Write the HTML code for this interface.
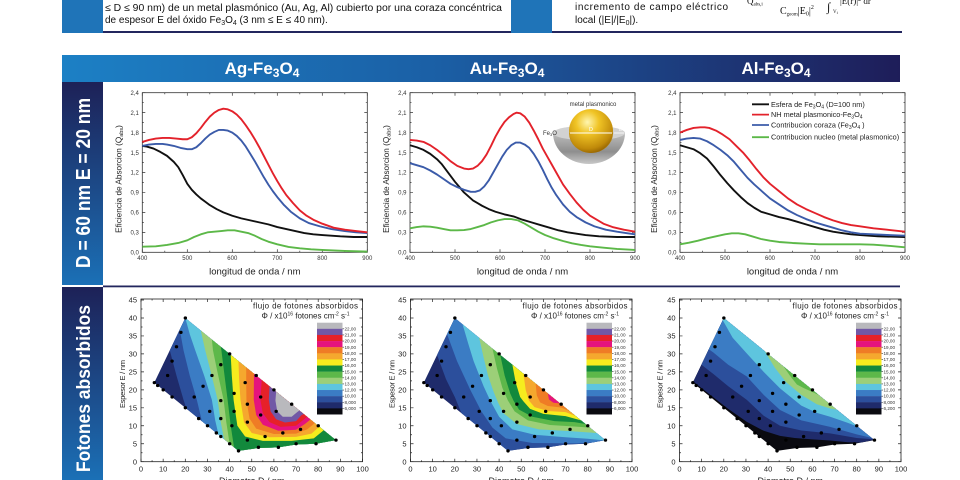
<!DOCTYPE html>
<html><head><meta charset="utf-8"><style>
html,body{margin:0;padding:0;background:#fff;}
svg{display:block;font-family:"Liberation Sans",Arial,sans-serif;}
</style></head><body>
<svg width="960" height="480" viewBox="0 0 960 480" xmlns="http://www.w3.org/2000/svg">
<defs>
 <linearGradient id="gBar" x1="0" y1="0" x2="1" y2="0">
  <stop offset="0" stop-color="#1c80c5"/><stop offset="0.45" stop-color="#1b5fa5"/><stop offset="1" stop-color="#1e1d59"/>
 </linearGradient>
 <linearGradient id="gSide" x1="0" y1="0" x2="0" y2="1">
  <stop offset="0" stop-color="#1d2157"/><stop offset="1" stop-color="#1b70b6"/>
 </linearGradient>
 <radialGradient id="gGold" cx="0.42" cy="0.3" r="0.75">
  <stop offset="0" stop-color="#fff6b0"/><stop offset="0.35" stop-color="#f0c425"/><stop offset="0.8" stop-color="#c08a0a"/><stop offset="1" stop-color="#8a5a00"/>
 </radialGradient>
 <linearGradient id="gShell" x1="0" y1="0" x2="0" y2="1">
  <stop offset="0" stop-color="#bdbdbd"/><stop offset="0.6" stop-color="#8e8e8e"/><stop offset="1" stop-color="#c8c8c8"/>
 </linearGradient>
 <clipPath id="cp"><path d="M6,22 L20,40 L88,6 L79,5 L70,4.8 L62,4 L53,3.8 L44,3 Z"/></clipPath>
 <path id="dots" fill="none" stroke="#000" stroke-width="3.3" stroke-linecap="round" vector-effect="non-scaling-stroke" d="M20,40h.05M18,36h.05M16,32h.05M14,28h.05M12,24h.05M6,22h.05M7.5,21.2h.05M10,20h.05M14,18h.05M20,15h.05M26,12h.05M30,10h.05M34,8h.05M36,7h.05M40,5h.05M44,3h.05M24,18h.05M28,21h.05M31,14h.05M32,24h.05M36,27h.05M36,17h.05M36,12h.05M40,30h.05M42,19h.05M42,14h.05M41,10h.05M47,22h.05M48,16h.05M48,11h.05M48,6h.05M52,24h.05M54,18h.05M54,13h.05M56,7h.05M53,4h.05M60,20h.05M61,14h.05M64,8h.05M62,4h.05M68,16h.05M72,9h.05M70,5h.05M80,10h.05M79,5h.05M88,6h.05"/>
</defs>
<rect width="960" height="480" fill="#fff"/>

<!-- header -->
<rect x="62" y="0" width="41" height="33" fill="#1f74b8"/>
<rect x="511" y="0" width="41" height="33" fill="#1f74b8"/>
<rect x="103" y="31" width="408" height="2" fill="#23265e"/>
<rect x="552" y="31" width="350" height="2" fill="#23265e"/>
<g font-size="10" fill="#111">
 <text x="105" y="11" textLength="397" lengthAdjust="spacingAndGlyphs">≤ D ≤ 90 nm) de un metal plasmónico (Au, Ag, Al) cubierto por una coraza concéntrica</text>
 <text x="105" y="23">de espesor E del óxido Fe<tspan font-size="7" dy="2">3</tspan><tspan dy="-2">O</tspan><tspan font-size="7" dy="2">4</tspan><tspan dy="-2"> (3 nm ≤ E ≤ 40 nm).</tspan></text>
 <text x="575" y="10" textLength="153" lengthAdjust="spacing">incremento de campo eléctrico</text>
 <text x="575" y="23">local (|E|/|E<tspan font-size="7" dy="2">0</tspan><tspan dy="-2">|).</tspan></text>
</g>
<g font-family="Liberation Serif, serif" fill="#111">
 <text x="747" y="4" font-size="9">Q<tspan font-size="5" dy="1.5">abs,i</tspan></text>
 <text x="780" y="14" font-size="10">C<tspan font-size="5" dy="1.5">geom</tspan><tspan dy="-1.5">|E</tspan><tspan font-size="6" dy="1.5">0</tspan><tspan dy="-1.5">|</tspan><tspan font-size="6" dy="-5">2</tspan></text>
 <text x="827" y="11" font-size="12">∫</text>
 <text x="833" y="13" font-size="5">V<tspan font-size="4" dy="1">i</tspan></text>
 <text x="840" y="4" font-size="9">|E(r)|<tspan font-size="6" dy="-3">2</tspan><tspan dy="3"> dr</tspan></text>
</g>

<!-- title bar -->
<rect x="62" y="55" width="838" height="27" fill="url(#gBar)"/>
<g font-size="17" font-weight="bold" fill="#fff" text-anchor="middle">
 <text x="262" y="74">Ag-Fe<tspan font-size="12" dy="3">3</tspan><tspan dy="-3">O</tspan><tspan font-size="12" dy="3">4</tspan></text>
 <text x="507" y="74">Au-Fe<tspan font-size="12" dy="3">3</tspan><tspan dy="-3">O</tspan><tspan font-size="12" dy="3">4</tspan></text>
 <text x="776" y="74">Al-Fe<tspan font-size="12" dy="3">3</tspan><tspan dy="-3">O</tspan><tspan font-size="12" dy="3">4</tspan></text>
</g>

<!-- side panels -->
<rect x="62" y="82" width="41" height="203" fill="url(#gSide)"/>
<rect x="62" y="287" width="41" height="193" fill="url(#gSide)"/>
<rect x="103" y="285.5" width="797" height="1.8" fill="#23265e"/>
<text transform="translate(90,183) rotate(-90)" font-size="20" font-weight="bold" fill="#fff" text-anchor="middle" textLength="170" lengthAdjust="spacingAndGlyphs">D = 60 nm E = 20 nm</text>
<text transform="translate(90,388.5) rotate(-90)" font-size="19" font-weight="bold" fill="#fff" text-anchor="middle" textLength="167" lengthAdjust="spacingAndGlyphs">Fotones absorbidos</text>

<!-- ============ LINE CHART FRAMES ============ -->
<g transform="translate(142.3,0)">
 <g stroke="#333" fill="none">
  <rect x="0" y="92.7" width="225" height="159.6" stroke-width="0.8"/>
  <line x1="1.5" y1="252.65" x2="1.5" y2="92" stroke-width="3" stroke-dasharray="0.7 19.25"/>
  <line x1="0.75" y1="242.675" x2="0.75" y2="92" stroke-width="1.5" stroke-dasharray="0.7 19.25"/>
  <line x1="223.5" y1="252.65" x2="223.5" y2="92" stroke-width="3" stroke-dasharray="0.7 19.25"/>
  <line x1="224.25" y1="242.675" x2="224.25" y2="92" stroke-width="1.5" stroke-dasharray="0.7 19.25"/>
  <line x1="-0.35" y1="250.8" x2="226" y2="250.8" stroke-width="3" stroke-dasharray="0.7 44.3"/>
  <line x1="22.15" y1="251.55" x2="226" y2="251.55" stroke-width="1.5" stroke-dasharray="0.7 44.3"/>
  <line x1="-0.35" y1="94.2" x2="226" y2="94.2" stroke-width="3" stroke-dasharray="0.7 44.3"/>
  <line x1="22.15" y1="93.45" x2="226" y2="93.45" stroke-width="1.5" stroke-dasharray="0.7 44.3"/>
 </g>
 <g font-size="6" fill="#333" text-anchor="end">
  <text x="-3.5" y="254.5">0,0</text><text x="-3.5" y="234.55">0,3</text><text x="-3.5" y="214.6">0,6</text><text x="-3.5" y="194.65">0,9</text><text x="-3.5" y="174.7">1,2</text><text x="-3.5" y="154.75">1,5</text><text x="-3.5" y="134.8">1,8</text><text x="-3.5" y="114.85">2,1</text><text x="-3.5" y="94.9">2,4</text>
 </g>
 <g font-size="6" fill="#333" text-anchor="middle">
  <text x="0" y="260">400</text><text x="45" y="260">500</text><text x="90" y="260">600</text><text x="135" y="260">700</text><text x="180" y="260">800</text><text x="225" y="260">900</text>
 </g>
 <text x="112.5" y="274.5" font-size="9.5" fill="#222" text-anchor="middle">longitud de onda / nm</text>
 <text transform="translate(-21,179) rotate(-90)" font-size="8.2" fill="#222" text-anchor="middle">Eficiencia de Absorcion (Q<tspan font-size="5.5" dy="1.5">abs</tspan><tspan dy="-1.5">)</tspan></text>
</g>

<g transform="translate(410,0)">
 <g stroke="#333" fill="none">
  <rect x="0" y="92.7" width="225" height="159.6" stroke-width="0.8"/>
  <line x1="1.5" y1="252.65" x2="1.5" y2="92" stroke-width="3" stroke-dasharray="0.7 19.25"/>
  <line x1="0.75" y1="242.675" x2="0.75" y2="92" stroke-width="1.5" stroke-dasharray="0.7 19.25"/>
  <line x1="223.5" y1="252.65" x2="223.5" y2="92" stroke-width="3" stroke-dasharray="0.7 19.25"/>
  <line x1="224.25" y1="242.675" x2="224.25" y2="92" stroke-width="1.5" stroke-dasharray="0.7 19.25"/>
  <line x1="-0.35" y1="250.8" x2="226" y2="250.8" stroke-width="3" stroke-dasharray="0.7 44.3"/>
  <line x1="22.15" y1="251.55" x2="226" y2="251.55" stroke-width="1.5" stroke-dasharray="0.7 44.3"/>
  <line x1="-0.35" y1="94.2" x2="226" y2="94.2" stroke-width="3" stroke-dasharray="0.7 44.3"/>
  <line x1="22.15" y1="93.45" x2="226" y2="93.45" stroke-width="1.5" stroke-dasharray="0.7 44.3"/>
 </g>
 <g font-size="6" fill="#333" text-anchor="end">
  <text x="-3.5" y="254.5">0,0</text><text x="-3.5" y="234.55">0,3</text><text x="-3.5" y="214.6">0,6</text><text x="-3.5" y="194.65">0,9</text><text x="-3.5" y="174.7">1,2</text><text x="-3.5" y="154.75">1,5</text><text x="-3.5" y="134.8">1,8</text><text x="-3.5" y="114.85">2,1</text><text x="-3.5" y="94.9">2,4</text>
 </g>
 <g font-size="6" fill="#333" text-anchor="middle">
  <text x="0" y="260">400</text><text x="45" y="260">500</text><text x="90" y="260">600</text><text x="135" y="260">700</text><text x="180" y="260">800</text><text x="225" y="260">900</text>
 </g>
 <text x="112.5" y="274.5" font-size="9.5" fill="#222" text-anchor="middle">longitud de onda / nm</text>
 <text transform="translate(-21,179) rotate(-90)" font-size="8.2" fill="#222" text-anchor="middle">Eficiencia de Absorcion (Q<tspan font-size="5.5" dy="1.5">abs</tspan><tspan dy="-1.5">)</tspan></text>
</g>

<g transform="translate(680,0)">
 <g stroke="#333" fill="none">
  <rect x="0" y="92.7" width="225" height="159.6" stroke-width="0.8"/>
  <line x1="1.5" y1="252.65" x2="1.5" y2="92" stroke-width="3" stroke-dasharray="0.7 19.25"/>
  <line x1="0.75" y1="242.675" x2="0.75" y2="92" stroke-width="1.5" stroke-dasharray="0.7 19.25"/>
  <line x1="223.5" y1="252.65" x2="223.5" y2="92" stroke-width="3" stroke-dasharray="0.7 19.25"/>
  <line x1="224.25" y1="242.675" x2="224.25" y2="92" stroke-width="1.5" stroke-dasharray="0.7 19.25"/>
  <line x1="-0.35" y1="250.8" x2="226" y2="250.8" stroke-width="3" stroke-dasharray="0.7 44.3"/>
  <line x1="22.15" y1="251.55" x2="226" y2="251.55" stroke-width="1.5" stroke-dasharray="0.7 44.3"/>
  <line x1="-0.35" y1="94.2" x2="226" y2="94.2" stroke-width="3" stroke-dasharray="0.7 44.3"/>
  <line x1="22.15" y1="93.45" x2="226" y2="93.45" stroke-width="1.5" stroke-dasharray="0.7 44.3"/>
 </g>
 <g font-size="6" fill="#333" text-anchor="end">
  <text x="-3.5" y="254.5">0,0</text><text x="-3.5" y="234.55">0,3</text><text x="-3.5" y="214.6">0,6</text><text x="-3.5" y="194.65">0,9</text><text x="-3.5" y="174.7">1,2</text><text x="-3.5" y="154.75">1,5</text><text x="-3.5" y="134.8">1,8</text><text x="-3.5" y="114.85">2,1</text><text x="-3.5" y="94.9">2,4</text>
 </g>
 <g font-size="6" fill="#333" text-anchor="middle">
  <text x="0" y="260">400</text><text x="45" y="260">500</text><text x="90" y="260">600</text><text x="135" y="260">700</text><text x="180" y="260">800</text><text x="225" y="260">900</text>
 </g>
 <text x="112.5" y="274.5" font-size="9.5" fill="#222" text-anchor="middle">longitud de onda / nm</text>
 <text transform="translate(-23,179) rotate(-90)" font-size="8.2" fill="#222" text-anchor="middle">Eficiencia de Absorcion (Q<tspan font-size="5.5" dy="1.5">abs</tspan><tspan dy="-1.5">)</tspan></text>
</g>

<!-- ============ LINE CHART CURVES ============ -->
<g fill="none" stroke-width="1.9" stroke-linejoin="round">
<g transform="translate(-37.7,252.3) scale(0.45,-66.5)">
 <polyline vector-effect="non-scaling-stroke" stroke="#5cb848" points="400,0.085 430,0.09 455,0.11 480,0.14 500,0.18 515,0.23 530,0.27 545,0.3 560,0.31 575,0.32 590,0.33 605,0.33 620,0.31 635,0.29 650,0.25 665,0.2 680,0.16 700,0.12 725,0.08 750,0.06 775,0.045 800,0.035 850,0.02 900,0.01"/>
 <polyline vector-effect="non-scaling-stroke" stroke="#111" points="400,1.6 410,1.59 425,1.56 440,1.51 455,1.45 470,1.36 480,1.28 490,1.16 500,1.03 510,0.94 520,0.87 530,0.81 540,0.76 550,0.71 565,0.65 580,0.6 600,0.55 620,0.51 640,0.48 660,0.45 680,0.42 700,0.38 720,0.35 740,0.32 760,0.29 780,0.27 800,0.26 840,0.24 870,0.23 900,0.23"/>
 <polyline vector-effect="non-scaling-stroke" stroke="#3b5ba9" points="400,1.6 415,1.62 430,1.63 445,1.63 455,1.62 470,1.6 485,1.57 500,1.55 510,1.55 520,1.58 530,1.64 540,1.71 550,1.77 560,1.81 570,1.84 580,1.84 590,1.83 600,1.8 610,1.75 620,1.68 630,1.59 640,1.48 650,1.37 660,1.25 670,1.13 680,1.02 690,0.92 700,0.83 715,0.71 730,0.61 750,0.51 770,0.44 795,0.39 820,0.35 850,0.32 875,0.3 900,0.29"/>
 <polyline vector-effect="non-scaling-stroke" stroke="#e3222b" points="400,1.66 415,1.69 430,1.71 445,1.72 460,1.72 475,1.71 490,1.7 500,1.7 510,1.73 520,1.79 530,1.87 540,1.96 550,2.04 560,2.1 570,2.14 580,2.16 590,2.15 600,2.12 610,2.07 620,2 630,1.91 640,1.81 650,1.7 660,1.58 670,1.45 680,1.32 690,1.19 700,1.07 710,0.96 720,0.86 735,0.74 750,0.63 765,0.55 780,0.49 800,0.43 825,0.37 850,0.34 875,0.32 900,0.3"/>
</g>
<g transform="translate(230,252.3) scale(0.45,-66.5)">
 <polyline vector-effect="non-scaling-stroke" stroke="#5cb848" points="400,0.36 415,0.38 430,0.39 445,0.385 460,0.37 475,0.35 490,0.33 505,0.33 520,0.335 535,0.35 550,0.38 565,0.41 580,0.45 595,0.48 610,0.5 625,0.5 640,0.48 655,0.43 670,0.37 685,0.31 700,0.26 720,0.21 740,0.17 760,0.135 780,0.11 800,0.09 830,0.07 860,0.05 900,0.035"/>
 <polyline vector-effect="non-scaling-stroke" stroke="#111" points="400,1.61 415,1.58 430,1.54 445,1.48 460,1.4 470,1.33 480,1.24 490,1.15 500,1.06 510,0.98 520,0.9 530,0.84 540,0.78 550,0.74 560,0.7 575,0.65 590,0.61 610,0.57 630,0.54 650,0.49 670,0.45 690,0.41 710,0.37 730,0.33 750,0.3 770,0.28 790,0.26 820,0.24 860,0.23 900,0.23"/>
 <polyline vector-effect="non-scaling-stroke" stroke="#3b5ba9" points="400,1.34 415,1.31 430,1.28 445,1.23 460,1.17 475,1.1 490,1.03 505,0.98 520,0.94 535,0.91 545,0.91 555,0.93 565,0.99 575,1.08 585,1.2 595,1.32 605,1.44 615,1.54 625,1.61 635,1.65 645,1.65 655,1.62 665,1.57 675,1.48 685,1.37 695,1.24 705,1.1 715,0.97 725,0.86 740,0.72 755,0.61 770,0.53 790,0.45 810,0.39 835,0.34 860,0.31 880,0.29 900,0.27"/>
 <polyline vector-effect="non-scaling-stroke" stroke="#e3222b" points="400,1.69 415,1.68 430,1.66 445,1.61 460,1.54 475,1.46 490,1.37 505,1.3 520,1.26 530,1.25 540,1.26 550,1.3 560,1.37 570,1.47 580,1.6 590,1.74 600,1.86 610,1.96 620,2.03 630,2.08 637,2.1 645,2.09 655,2.04 665,1.95 675,1.83 685,1.7 695,1.56 705,1.44 715,1.32 725,1.2 740,1.02 755,0.88 770,0.75 785,0.64 800,0.55 815,0.49 830,0.43 850,0.38 875,0.34 900,0.31"/>
</g>
<g transform="translate(500,252.3) scale(0.45,-66.5)">
 <polyline vector-effect="non-scaling-stroke" stroke="#5cb848" points="400,0.12 420,0.145 440,0.175 460,0.21 480,0.24 500,0.27 515,0.285 530,0.285 545,0.27 560,0.24 580,0.2 600,0.175 620,0.155 650,0.14 680,0.13 710,0.12 750,0.12 800,0.12 830,0.115 860,0.1 900,0.075"/>
 <polyline vector-effect="non-scaling-stroke" stroke="#111" points="400,1.61 415,1.58 430,1.55 445,1.49 460,1.41 475,1.29 490,1.16 505,1.04 520,0.93 535,0.83 550,0.74 565,0.67 580,0.61 600,0.57 620,0.53 640,0.5 660,0.46 680,0.42 700,0.38 720,0.34 740,0.31 760,0.29 780,0.27 800,0.26 840,0.24 900,0.23"/>
 <polyline vector-effect="non-scaling-stroke" stroke="#3b5ba9" points="400,1.69 415,1.71 430,1.72 445,1.71 460,1.67 475,1.61 490,1.54 505,1.46 520,1.36 535,1.24 550,1.12 565,1.02 580,0.93 600,0.81 620,0.72 640,0.63 660,0.56 680,0.5 700,0.45 720,0.41 740,0.37 760,0.33 780,0.3 800,0.28 830,0.27 860,0.26 900,0.25"/>
 <polyline vector-effect="non-scaling-stroke" stroke="#e3222b" points="400,1.8 415,1.84 430,1.87 445,1.88 455,1.88 465,1.87 480,1.83 495,1.77 510,1.7 525,1.6 540,1.5 555,1.38 570,1.25 585,1.13 600,1.03 620,0.92 640,0.81 660,0.72 680,0.65 700,0.59 720,0.53 740,0.48 760,0.44 780,0.41 800,0.39 830,0.36 860,0.34 900,0.31"/>
</g>
</g>

<!-- legend chart 3 -->
<g stroke-width="1.8">
 <line x1="752" y1="104.3" x2="769" y2="104.3" stroke="#111"/>
 <line x1="752" y1="114.6" x2="769" y2="114.6" stroke="#e3222b"/>
 <line x1="752" y1="125" x2="769" y2="125" stroke="#3b5ba9"/>
 <line x1="752" y1="137.2" x2="769" y2="137.2" stroke="#5cb848"/>
</g>
<g font-size="7.3" fill="#222">
 <text x="771" y="106.8">Esfera de Fe<tspan font-size="5" dy="1.5">3</tspan><tspan dy="-1.5">O</tspan><tspan font-size="5" dy="1.5">4</tspan><tspan dy="-1.5"> (D=100 nm)</tspan></text>
 <text x="771" y="117.1">NH metal plasmonico-Fe<tspan font-size="5" dy="1.5">3</tspan><tspan dy="-1.5">O</tspan><tspan font-size="5" dy="1.5">4</tspan></text>
 <text x="771" y="127.5">Contribucion coraza (Fe<tspan font-size="5" dy="1.5">3</tspan><tspan dy="-1.5">O</tspan><tspan font-size="5" dy="1.5">4</tspan><tspan dy="-1.5"> )</tspan></text>
 <text x="771" y="139.7">Contribucion nucleo (metal plasmonico)</text>
</g>

<!-- inset chart 2 -->
<path d="M553,133 A36,31 0 0 0 625,133 Z" fill="url(#gShell)"/>
<ellipse cx="589" cy="133" rx="36" ry="7.5" fill="#d2d2d2"/>
<path d="M569,133 A22,20 0 0 0 613,133 Z" fill="#b8860b"/>
<circle cx="591" cy="131" r="22" fill="url(#gGold)"/>
<line x1="570" y1="133" x2="612" y2="133" stroke="#fff" stroke-width="1"/>
<line x1="614" y1="133" x2="624" y2="133" stroke="#fff" stroke-width="0.8"/>
<text x="591" y="131" font-size="5.5" fill="#fff" text-anchor="middle">D</text>
<text x="619" y="131" font-size="5" fill="#fff">E</text>
<text x="593" y="106" font-size="6" fill="#333" text-anchor="middle">metal plasmonico</text>
<text x="543" y="135" font-size="6" fill="#333">Fe<tspan font-size="4" dy="1">3</tspan><tspan dy="-1">O</tspan></text>

<!-- ============ CONTOUR FILLS ============ -->
<g transform="translate(141,461.7) scale(2.215,-3.593)">
 <g clip-path="url(#cp)">
  <rect x="0" y="0" width="100" height="45" fill="#1f2b6b"/>
  <path fill="#2c4f9c" d="M13,31 L16,24 L19.2,17.2 L20.5,14.75 L20.5,-10 L110,-10 L110,60 L13,60Z"/>
  <path fill="#3b7cc4" d="M17.5,36.8 L19.2,31 L22,24 L25.2,17.2 L27.5,11.25 L27.5,-10 L110,-10 L110,60 L17.5,60Z"/>
  <path fill="#5ec5de" d="M20,40 L22,35.5 L24.5,31 L28.5,24 L32,17.2 L33.5,11.5 L35,7.5 L35,-10 L110,-10 L110,60 L20,60Z"/>
  <path fill="#9ccf78" d="M27,36.5 L29,31 L31.5,25 L34.6,17.2 L36,11 L37.5,6.25 L37.5,-10 L110,-10 L110,60 L27,60Z"/>
  <path fill="#5db84a" d="M32,34 L32.5,31 L34.5,25 L37.3,17.2 L38.5,11 L40,5 L40,-10 L110,-10 L110,60 L32,60Z"/>
  <path fill="#12893c" d="M36,32 L36.3,31 L37.5,25 L39.1,17.2 L40.5,10 L42,4 L42,-10 L110,-10 L110,60 L36,60Z"/>
  <path fill="#f6ec1e" d="M40.5,29.75 L41,24 L41.8,17.2 L43.5,10 L47,7 L55,5.8 L68,5.8 L78,6.5 L82.5,8.75 L82.5,60 L40.5,60Z"/>
  <path fill="#f5a82e" d="M44,28 L44.3,23 L44.9,17.2 L46.5,11 L50,8 L58,6.8 L70,6.9 L77,7.8 L80.5,9.75 L80.5,60 L44,60Z"/>
  <path fill="#ef7c25" d="M47.5,26.25 L47.5,22 L47.6,17.2 L49,12 L52,9.2 L60,7.7 L70,7.8 L75,9 L78.5,10.75 L78.5,60 L47.5,60Z"/>
  <path fill="#e5147d" d="M51,24.5 L50.9,17.2 L52,13 L55,10.3 L62,8.6 L70,8.9 L74,10.5 L76.5,11.75 L76.5,60 L51,60Z"/>
  <path fill="#e62129" d="M54.5,22.75 L53.9,17.2 L55,13.5 L58,11 L63,9.7 L70,10 L73,11.5 L75,12.5 L75,60 L54.5,60Z"/>
  <path fill="#7158a6" d="M58,21 L57.7,17.2 L58.5,14 L61,11.8 L65,10.9 L70,11.3 L72.5,13 L73.5,13.25 L73.5,60 L58,60Z"/>
  <path fill="#b9b9bd" d="M61,19.5 L60.7,17 L61.5,14 L64,12.5 L68,12.5 L70.5,13.8 L71.5,14.25 L71.5,60 L61,60Z"/>
 </g>
 <use href="#dots"/>
</g>
<g transform="translate(410.5,461.7) scale(2.215,-3.593)">
 <g clip-path="url(#cp)">
  <rect x="0" y="0" width="100" height="45" fill="#1f2b6b"/>
  <path fill="#2c4f9c" d="M12,29.7 L16,23 L20,18 L23,13.5 L23,-10 L110,-10 L110,60 L12,60Z"/>
  <path fill="#3b7cc4" d="M16.5,35.5 L21,28 L27,20 L32,14 L37,9.5 L43,6.5 L55,5.2 L75,5.1 L86,5.5 L110,5.5 L110,60 L16.5,60Z"/>
  <path fill="#5ec5de" d="M23.5,38.25 L26,33 L28.5,28 L33,21 L36,17 L40,12.5 L46,9 L56,7.5 L70,6.8 L80,6.4 L88,5.9 L110,5.9 L110,60 L23.5,60Z"/>
  <path fill="#9ccf78" d="M31,34.5 L33,29 L35,24 L37.5,19.5 L39.5,16.5 L42,13.5 L48,10.5 L58,9 L72,8.5 L84,8 L84,60 L31,60Z"/>
  <path fill="#5db84a" d="M37,31.5 L39,26 L41.5,20.5 L44,17 L47,14 L53,11.5 L63,10.2 L74,9.8 L81,9.5 L81,60 L37,60Z"/>
  <path fill="#12893c" d="M40.5,29.75 L42.5,24 L45,19 L46.5,17 L49,14.5 L55,12.5 L65,11.3 L74,11 L79,10.5 L79,60 L40.5,60Z"/>
  <path fill="#f6ec1e" d="M46,27 L47.5,22 L49.5,18 L51,16.8 L54,14.7 L60,13.3 L70,12.7 L77,11.5 L77,60 L46,60Z"/>
  <path fill="#f5a82e" d="M51,24.5 L52,20 L53.5,17 L56,15.2 L62,14.1 L70,13.8 L74.5,12.75 L74.5,60 L51,60Z"/>
  <path fill="#ef7c25" d="M56.5,21.75 L57,18.5 L58.5,16.5 L62,15.5 L68,15.1 L72,14 L72,60 L56.5,60Z"/>
  <path fill="#e5147d" d="M62,19 L62.5,17.3 L64.5,16.4 L68,16.2 L69.5,15.25 L69.5,60 L62,60Z"/>
 </g>
 <use href="#dots"/>
</g>
<g transform="translate(679.5,461.7) scale(2.215,-3.593)">
 <g clip-path="url(#cp)">
  <rect x="0" y="0" width="100" height="45" fill="#0a0a10"/>
  <path fill="#1f2b6b" d="M6,22.4 L15.3,17.9 L22,14.7 L30.4,11.1 L38,8.6 L45.4,7.2 L52,6.6 L60,6.2 L68,5.9 L76,5.4 L82,5.3 L88,6.1 L110,6.1 L110,60 L0,60 L0,22.4Z"/>
  <path fill="#2c4f9c" d="M9.9,27 L15.3,24.4 L22,21 L30.4,17.2 L38,12.8 L45.4,10 L55,8.7 L68,7.9 L80,6.6 L88,6.2 L110,6.2 L110,60 L9.9,60Z"/>
  <path fill="#3b7cc4" d="M13.2,31.3 L15.3,30.4 L22,27 L30.4,23.7 L38,18.6 L45.4,14.4 L55,11.5 L68,9.7 L80,7.6 L87,6.6 L110,6.6 L110,60 L13.2,60Z"/>
  <path fill="#5ec5de" d="M19.5,39.4 L24,34.5 L30.4,30.1 L38,25 L45.4,20.4 L55,15.6 L62,13.6 L68,12.5 L76,10.8 L80.5,9.75 L80.5,60 L19.5,60Z"/>
  <path fill="#9ccf78" d="M38.5,30.75 L43,26.2 L48,22.2 L55,18.6 L62,16 L68,14.8 L71,14.5 L71,60 L38.5,60Z"/>
  <path fill="#5db84a" d="M47,26.5 L50,23.8 L53,21.5 L56,20.5 L60,19.4 L63,18.5 L63,60 L47,60Z"/>
 </g>
 <use href="#dots"/>
</g>

<!-- ============ CONTOUR FRAMES ============ -->
<g transform="translate(141,0)">
 <g stroke="#222" fill="none">
  <rect x="0" y="299" width="221.5" height="162.7" stroke-width="0.8"/>
  <line x1="1.5" y1="462.05" x2="1.5" y2="298" stroke-width="3" stroke-dasharray="0.7 17.265"/>
  <line x1="0.75" y1="453.07" x2="0.75" y2="298" stroke-width="1.5" stroke-dasharray="0.7 17.265"/>
  <line x1="220" y1="462.05" x2="220" y2="298" stroke-width="3" stroke-dasharray="0.7 17.265"/>
  <line x1="220.75" y1="453.07" x2="220.75" y2="298" stroke-width="1.5" stroke-dasharray="0.7 17.265"/>
  <line x1="-0.35" y1="460.2" x2="223" y2="460.2" stroke-width="3" stroke-dasharray="0.7 21.45"/>
  <line x1="10.725" y1="460.95" x2="223" y2="460.95" stroke-width="1.5" stroke-dasharray="0.7 21.45"/>
  <line x1="-0.35" y1="300.5" x2="223" y2="300.5" stroke-width="3" stroke-dasharray="0.7 21.45"/>
  <line x1="10.725" y1="299.75" x2="223" y2="299.75" stroke-width="1.5" stroke-dasharray="0.7 21.45"/>
 </g>
 <g font-size="7.5" fill="#222" text-anchor="end">
  <text x="-4" y="464.3">0</text><text x="-4" y="446.3">5</text><text x="-4" y="428.4">10</text><text x="-4" y="410.4">15</text><text x="-4" y="392.4">20</text><text x="-4" y="374.5">25</text><text x="-4" y="356.5">30</text><text x="-4" y="338.5">35</text><text x="-4" y="320.5">40</text><text x="-4" y="302.6">45</text>
 </g>
 <g font-size="7.5" fill="#222" text-anchor="middle">
  <text x="0" y="471.5">0</text><text x="22.15" y="471.5">10</text><text x="44.3" y="471.5">20</text><text x="66.45" y="471.5">30</text><text x="88.6" y="471.5">40</text><text x="110.75" y="471.5">50</text><text x="132.9" y="471.5">60</text><text x="155.05" y="471.5">70</text><text x="177.2" y="471.5">80</text><text x="199.35" y="471.5">90</text><text x="221.5" y="471.5">100</text>
 </g>
 <text x="110.75" y="484" font-size="9" fill="#222" text-anchor="middle">Diametro D / nm</text>
 <text transform="translate(-16,384) rotate(-90)" font-size="7.5" fill="#222" text-anchor="middle" textLength="48">Espesor E / nm</text>
 <text x="164.5" y="308.5" font-size="8" fill="#222" text-anchor="middle" textLength="105">flujo de fotones absorbidos</text>
 <text x="164.5" y="318.5" font-size="8" fill="#222" text-anchor="middle">Φ / x10<tspan font-size="5" dy="-3">16</tspan><tspan dy="3"> fotones cm</tspan><tspan font-size="5" dy="-3">-2</tspan><tspan dy="3"> s</tspan><tspan font-size="5" dy="-3">-1</tspan></text>
 <g transform="translate(176,322.7)">
  <rect y="0" width="25.5" height="6.3" fill="#b9b9bd"/><rect y="6.12" width="25.5" height="6.3" fill="#7158a6"/><rect y="12.24" width="25.5" height="6.3" fill="#e62129"/><rect y="18.36" width="25.5" height="6.3" fill="#e5147d"/><rect y="24.48" width="25.5" height="6.3" fill="#ef7c25"/><rect y="30.6" width="25.5" height="6.3" fill="#f5a82e"/><rect y="36.72" width="25.5" height="6.3" fill="#f6ec1e"/><rect y="42.84" width="25.5" height="6.3" fill="#12893c"/><rect y="48.96" width="25.5" height="6.3" fill="#5db84a"/><rect y="55.08" width="25.5" height="6.3" fill="#9ccf78"/><rect y="61.2" width="25.5" height="6.3" fill="#5ec5de"/><rect y="67.32" width="25.5" height="6.3" fill="#3b7cc4"/><rect y="73.44" width="25.5" height="6.3" fill="#2c4f9c"/><rect y="79.56" width="25.5" height="6.3" fill="#1f2b6b"/><rect y="85.68" width="25.5" height="6.1" fill="#0a0a10"/>
  <line x1="26.3" y1="5.82" x2="26.3" y2="86" stroke="#333" stroke-width="1.5" stroke-dasharray="0.6 5.52"/>
  <g font-size="4.6" fill="#333"><text x="27.5" y="7.7">22,00</text><text x="27.5" y="13.8">21,00</text><text x="27.5" y="19.9">20,00</text><text x="27.5" y="26.1">19,00</text><text x="27.5" y="32.2">18,00</text><text x="27.5" y="38.3">17,00</text><text x="27.5" y="44.4">16,00</text><text x="27.5" y="50.6">15,00</text><text x="27.5" y="56.7">14,00</text><text x="27.5" y="62.8">13,00</text><text x="27.5" y="68.9">12,00</text><text x="27.5" y="75">10,00</text><text x="27.5" y="81.2">8,000</text><text x="27.5" y="87.3">6,000</text></g>
 </g>
</g>

<g transform="translate(410.5,0)">
 <g stroke="#222" fill="none">
  <rect x="0" y="299" width="221.5" height="162.7" stroke-width="0.8"/>
  <line x1="1.5" y1="462.05" x2="1.5" y2="298" stroke-width="3" stroke-dasharray="0.7 17.265"/>
  <line x1="0.75" y1="453.07" x2="0.75" y2="298" stroke-width="1.5" stroke-dasharray="0.7 17.265"/>
  <line x1="220" y1="462.05" x2="220" y2="298" stroke-width="3" stroke-dasharray="0.7 17.265"/>
  <line x1="220.75" y1="453.07" x2="220.75" y2="298" stroke-width="1.5" stroke-dasharray="0.7 17.265"/>
  <line x1="-0.35" y1="460.2" x2="223" y2="460.2" stroke-width="3" stroke-dasharray="0.7 21.45"/>
  <line x1="10.725" y1="460.95" x2="223" y2="460.95" stroke-width="1.5" stroke-dasharray="0.7 21.45"/>
  <line x1="-0.35" y1="300.5" x2="223" y2="300.5" stroke-width="3" stroke-dasharray="0.7 21.45"/>
  <line x1="10.725" y1="299.75" x2="223" y2="299.75" stroke-width="1.5" stroke-dasharray="0.7 21.45"/>
 </g>
 <g font-size="7.5" fill="#222" text-anchor="end">
  <text x="-4" y="464.3">0</text><text x="-4" y="446.3">5</text><text x="-4" y="428.4">10</text><text x="-4" y="410.4">15</text><text x="-4" y="392.4">20</text><text x="-4" y="374.5">25</text><text x="-4" y="356.5">30</text><text x="-4" y="338.5">35</text><text x="-4" y="320.5">40</text><text x="-4" y="302.6">45</text>
 </g>
 <g font-size="7.5" fill="#222" text-anchor="middle">
  <text x="0" y="471.5">0</text><text x="22.15" y="471.5">10</text><text x="44.3" y="471.5">20</text><text x="66.45" y="471.5">30</text><text x="88.6" y="471.5">40</text><text x="110.75" y="471.5">50</text><text x="132.9" y="471.5">60</text><text x="155.05" y="471.5">70</text><text x="177.2" y="471.5">80</text><text x="199.35" y="471.5">90</text><text x="221.5" y="471.5">100</text>
 </g>
 <text x="110.75" y="484" font-size="9" fill="#222" text-anchor="middle">Diametro D / nm</text>
 <text transform="translate(-16,384) rotate(-90)" font-size="7.5" fill="#222" text-anchor="middle" textLength="48">Espesor E / nm</text>
 <text x="164.5" y="308.5" font-size="8" fill="#222" text-anchor="middle" textLength="105">flujo de fotones absorbidos</text>
 <text x="164.5" y="318.5" font-size="8" fill="#222" text-anchor="middle">Φ / x10<tspan font-size="5" dy="-3">16</tspan><tspan dy="3"> fotones cm</tspan><tspan font-size="5" dy="-3">-2</tspan><tspan dy="3"> s</tspan><tspan font-size="5" dy="-3">-1</tspan></text>
 <g transform="translate(176,322.7)">
  <rect y="0" width="25.5" height="6.3" fill="#b9b9bd"/><rect y="6.12" width="25.5" height="6.3" fill="#7158a6"/><rect y="12.24" width="25.5" height="6.3" fill="#e62129"/><rect y="18.36" width="25.5" height="6.3" fill="#e5147d"/><rect y="24.48" width="25.5" height="6.3" fill="#ef7c25"/><rect y="30.6" width="25.5" height="6.3" fill="#f5a82e"/><rect y="36.72" width="25.5" height="6.3" fill="#f6ec1e"/><rect y="42.84" width="25.5" height="6.3" fill="#12893c"/><rect y="48.96" width="25.5" height="6.3" fill="#5db84a"/><rect y="55.08" width="25.5" height="6.3" fill="#9ccf78"/><rect y="61.2" width="25.5" height="6.3" fill="#5ec5de"/><rect y="67.32" width="25.5" height="6.3" fill="#3b7cc4"/><rect y="73.44" width="25.5" height="6.3" fill="#2c4f9c"/><rect y="79.56" width="25.5" height="6.3" fill="#1f2b6b"/><rect y="85.68" width="25.5" height="6.1" fill="#0a0a10"/>
  <line x1="26.3" y1="5.82" x2="26.3" y2="86" stroke="#333" stroke-width="1.5" stroke-dasharray="0.6 5.52"/>
  <g font-size="4.6" fill="#333"><text x="27.5" y="7.7">22,00</text><text x="27.5" y="13.8">21,00</text><text x="27.5" y="19.9">20,00</text><text x="27.5" y="26.1">19,00</text><text x="27.5" y="32.2">18,00</text><text x="27.5" y="38.3">17,00</text><text x="27.5" y="44.4">16,00</text><text x="27.5" y="50.6">15,00</text><text x="27.5" y="56.7">14,00</text><text x="27.5" y="62.8">13,00</text><text x="27.5" y="68.9">12,00</text><text x="27.5" y="75">10,00</text><text x="27.5" y="81.2">8,000</text><text x="27.5" y="87.3">6,000</text></g>
 </g>
</g>

<g transform="translate(679.5,0)">
 <g stroke="#222" fill="none">
  <rect x="0" y="299" width="221.5" height="162.7" stroke-width="0.8"/>
  <line x1="1.5" y1="462.05" x2="1.5" y2="298" stroke-width="3" stroke-dasharray="0.7 17.265"/>
  <line x1="0.75" y1="453.07" x2="0.75" y2="298" stroke-width="1.5" stroke-dasharray="0.7 17.265"/>
  <line x1="220" y1="462.05" x2="220" y2="298" stroke-width="3" stroke-dasharray="0.7 17.265"/>
  <line x1="220.75" y1="453.07" x2="220.75" y2="298" stroke-width="1.5" stroke-dasharray="0.7 17.265"/>
  <line x1="-0.35" y1="460.2" x2="223" y2="460.2" stroke-width="3" stroke-dasharray="0.7 21.45"/>
  <line x1="10.725" y1="460.95" x2="223" y2="460.95" stroke-width="1.5" stroke-dasharray="0.7 21.45"/>
  <line x1="-0.35" y1="300.5" x2="223" y2="300.5" stroke-width="3" stroke-dasharray="0.7 21.45"/>
  <line x1="10.725" y1="299.75" x2="223" y2="299.75" stroke-width="1.5" stroke-dasharray="0.7 21.45"/>
 </g>
 <g font-size="7.5" fill="#222" text-anchor="end">
  <text x="-4" y="464.3">0</text><text x="-4" y="446.3">5</text><text x="-4" y="428.4">10</text><text x="-4" y="410.4">15</text><text x="-4" y="392.4">20</text><text x="-4" y="374.5">25</text><text x="-4" y="356.5">30</text><text x="-4" y="338.5">35</text><text x="-4" y="320.5">40</text><text x="-4" y="302.6">45</text>
 </g>
 <g font-size="7.5" fill="#222" text-anchor="middle">
  <text x="0" y="471.5">0</text><text x="22.15" y="471.5">10</text><text x="44.3" y="471.5">20</text><text x="66.45" y="471.5">30</text><text x="88.6" y="471.5">40</text><text x="110.75" y="471.5">50</text><text x="132.9" y="471.5">60</text><text x="155.05" y="471.5">70</text><text x="177.2" y="471.5">80</text><text x="199.35" y="471.5">90</text><text x="221.5" y="471.5">100</text>
 </g>
 <text x="110.75" y="484" font-size="9" fill="#222" text-anchor="middle">Diametro D / nm</text>
 <text transform="translate(-17,384) rotate(-90)" font-size="7.5" fill="#222" text-anchor="middle" textLength="48">Espesor E / nm</text>
 <text x="165.5" y="308.5" font-size="8" fill="#222" text-anchor="middle" textLength="105">flujo de fotones absorbidos</text>
 <text x="165.5" y="318.5" font-size="8" fill="#222" text-anchor="middle">Φ / x10<tspan font-size="5" dy="-3">16</tspan><tspan dy="3"> fotones cm</tspan><tspan font-size="5" dy="-3">-2</tspan><tspan dy="3"> s</tspan><tspan font-size="5" dy="-3">-1</tspan></text>
 <g transform="translate(176.5,322.7)">
  <rect y="0" width="25.5" height="6.3" fill="#b9b9bd"/><rect y="6.12" width="25.5" height="6.3" fill="#7158a6"/><rect y="12.24" width="25.5" height="6.3" fill="#e62129"/><rect y="18.36" width="25.5" height="6.3" fill="#e5147d"/><rect y="24.48" width="25.5" height="6.3" fill="#ef7c25"/><rect y="30.6" width="25.5" height="6.3" fill="#f5a82e"/><rect y="36.72" width="25.5" height="6.3" fill="#f6ec1e"/><rect y="42.84" width="25.5" height="6.3" fill="#12893c"/><rect y="48.96" width="25.5" height="6.3" fill="#5db84a"/><rect y="55.08" width="25.5" height="6.3" fill="#9ccf78"/><rect y="61.2" width="25.5" height="6.3" fill="#5ec5de"/><rect y="67.32" width="25.5" height="6.3" fill="#3b7cc4"/><rect y="73.44" width="25.5" height="6.3" fill="#2c4f9c"/><rect y="79.56" width="25.5" height="6.3" fill="#1f2b6b"/><rect y="85.68" width="25.5" height="6.1" fill="#0a0a10"/>
  <line x1="26.3" y1="5.82" x2="26.3" y2="86" stroke="#333" stroke-width="1.5" stroke-dasharray="0.6 5.52"/>
  <g font-size="4.6" fill="#333"><text x="27.5" y="7.7">22,00</text><text x="27.5" y="13.8">21,00</text><text x="27.5" y="19.9">20,00</text><text x="27.5" y="26.1">19,00</text><text x="27.5" y="32.2">18,00</text><text x="27.5" y="38.3">17,00</text><text x="27.5" y="44.4">16,00</text><text x="27.5" y="50.6">15,00</text><text x="27.5" y="56.7">14,00</text><text x="27.5" y="62.8">13,00</text><text x="27.5" y="68.9">12,00</text><text x="27.5" y="75">10,00</text><text x="27.5" y="81.2">8,000</text><text x="27.5" y="87.3">6,200</text></g>
 </g>
</g>
</svg>
</body></html>
